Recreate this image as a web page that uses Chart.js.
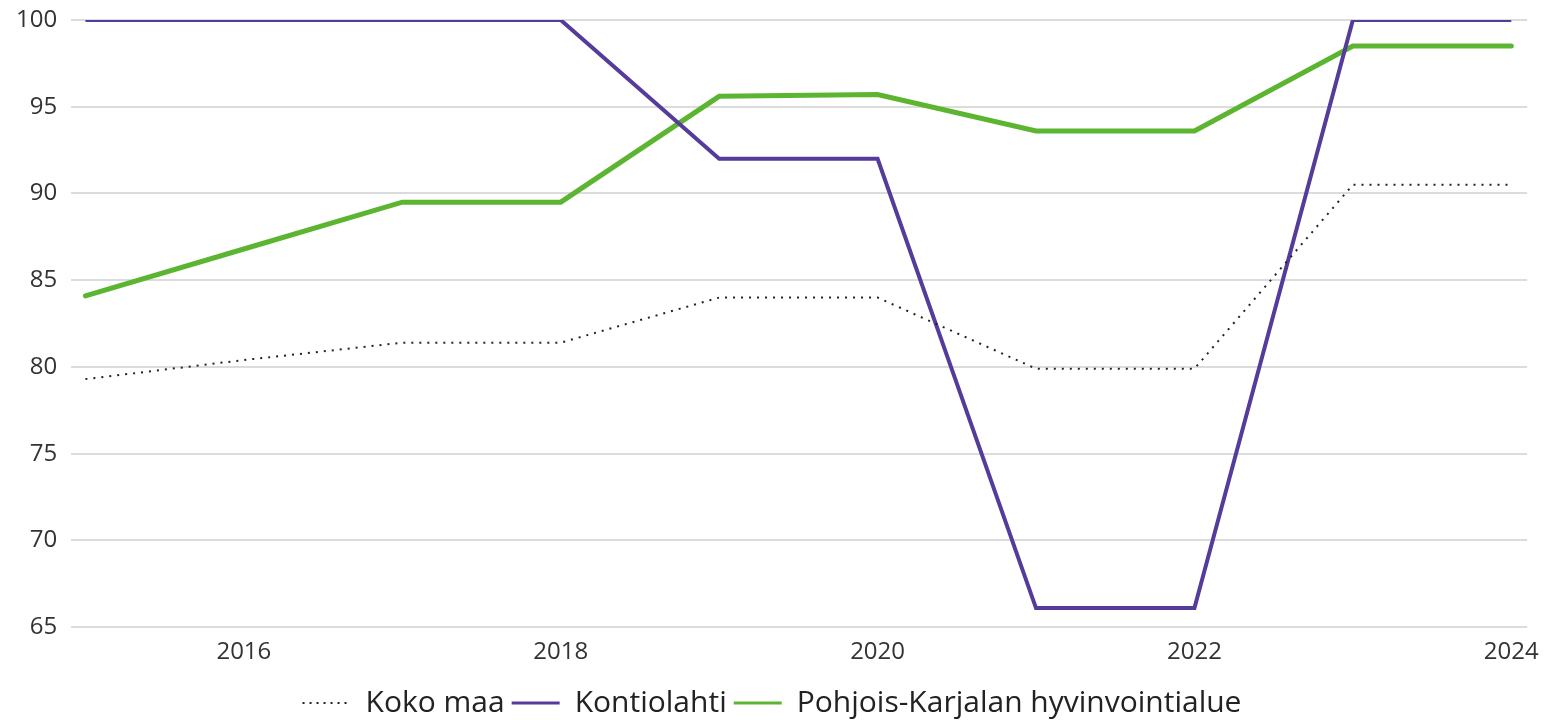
<!DOCTYPE html>
<html>
<head>
<meta charset="utf-8">
<script src="https://cdn.jsdelivr.net/npm/chart.js@4.4.0/dist/chart.umd.min.js"></script>
<style>
  html, body { margin: 0; padding: 0; background: #ffffff; }
  #wrap { width: 1550px; height: 728px; }
</style>
</head>
<body>
<div id="wrap"><canvas id="line-chart"></canvas></div>
<script>
const years = [2015, 2016, 2017, 2018, 2019, 2020, 2021, 2022, 2023, 2024];
const kokoMaa = [79.3, 80.4, 81.4, 81.4, 84.0, 84.0, 79.9, 79.9, 90.5, 90.5];
const kontiolahti = [100, 100, 100, 100, 92.0, 92.0, 66.1, 66.1, 100, 100];
const pohjoisKarjala = [84.1, 86.8, 89.5, 89.5, 95.6, 95.7, 93.6, 93.6, 98.5, 98.5];
const yearTicks = [2016, 2018, 2020, 2022, 2024];

// pair each value with its year for the linear x axis
function toPoints(values) {
    return values.map((v, i) => ({ x: years[i], y: v }));
}

const fontFamily = "'Open Sans', 'Noto Sans', sans-serif";

let lineChart = new Chart('line-chart', {
    type: 'line',
    data: {
        datasets: [
            {
                label: 'Koko maa',
                data: toPoints(kokoMaa),
                borderColor: '#222222',
                borderWidth: 2,
                borderDash: [2, 6],
                pointRadius: 0
            },
            {
                label: 'Kontiolahti',
                data: toPoints(kontiolahti),
                borderColor: '#553c9a',
                borderWidth: 4,
                pointRadius: 0
            },
            {
                label: 'Pohjois-Karjalan hyvinvointialue',
                data: toPoints(pohjoisKarjala),
                borderColor: '#5cb531',
                borderWidth: 5,
                borderCapStyle: 'round',
                pointRadius: 0
            }
        ]
    },
    options: {
        responsive: true,
        maintainAspectRatio: false,
        animation: false,
        layout: {
            padding: { top: 20, right: 22, left: 16, bottom: 0 }
        },
        plugins: {
            legend: {
                position: 'bottom',
                labels: {
                    usePointStyle: true,
                    pointStyle: 'line',
                    pointStyleWidth: 48,
                    padding: 7,
                    color: '#222222',
                    font: { family: fontFamily, size: 30 },
                    // thinner sample lines than the plotted ones
                    generateLabels: chart => {
                        const items = Chart.defaults.plugins.legend.labels.generateLabels(chart);
                        items.forEach((item, i) => {
                            item.lineWidth = i === 0 ? 2 : 3;
                            item.lineDash = i === 0 ? [2, 5] : [];
                        });
                        return items;
                    }
                }
            },
            tooltip: { enabled: false }
        },
        scales: {
            x: {
                type: 'linear',
                min: 2014.91,
                max: 2024.1,
                grid: { display: false, drawTicks: false },
                border: { display: false },
                afterBuildTicks: axis => {
                    axis.ticks = yearTicks.map(v => ({ value: v }));
                },
                // extra room between the year labels and the legend
                afterFit: axis => {
                    axis.height += 3;
                },
                ticks: {
                    color: '#333333',
                    padding: 11,
                    maxRotation: 0,
                    font: { family: fontFamily, size: 24 },
                    callback: value => String(value)
                }
            },
            y: {
                min: 65,
                max: 100,
                grid: { color: '#dcdcdc', lineWidth: 2, drawTicks: true, tickLength: 14, tickColor: 'rgba(0,0,0,0)' },
                border: { display: false },
                ticks: {
                    stepSize: 5,
                    padding: 0,
                    color: '#333333',
                    font: { family: fontFamily, size: 24 }
                }
            }
        }
    }
});
</script>
</body>
</html>
